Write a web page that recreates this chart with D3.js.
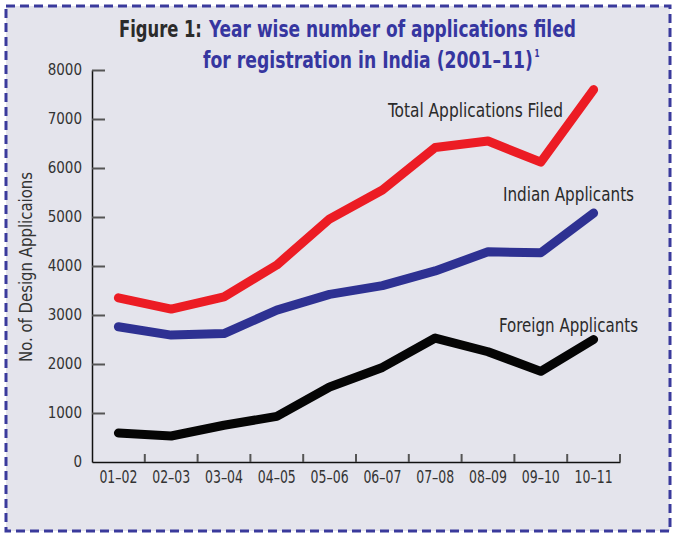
<!DOCTYPE html>
<html><head><meta charset="utf-8">
<script src="https://cdn.jsdelivr.net/npm/d3@7"></script>
<style>html,body{margin:0;padding:0;background:#fff;}svg{display:block;}</style>
</head><body>
<svg id="c" width="676" height="533"></svg>
<script>
const years = ["01–02","02–03","03–04","04–05","05–06","06–07","07–08","08–09","09–10","10–11"];
const totalFiled = [3350, 3120, 3370, 4020, 4960, 5550, 6420, 6550, 6120, 7600];
const indianApplicants = [2760, 2590, 2620, 3100, 3420, 3600, 3900, 4290, 4270, 5080];
const foreignApplicants = [590, 530, 750, 930, 1530, 1930, 2530, 2250, 1850, 2500];
const yTicks = [0, 1000, 2000, 3000, 4000, 5000, 6000, 7000, 8000];
const seriesNames = ["Total Applications Filed", "Indian Applicants", "Foreign Applicants"];

const FONT = "'Liberation Sans Narrow','DejaVu Sans Condensed','Roboto Condensed',sans-serif";
const svg = d3.select("#c");

// background & dashed frame
svg.append("rect").attr("x",6).attr("y",6).attr("width",664).attr("height",525)
  .attr("fill","#e4e4ec").attr("stroke","#3a3a9c").attr("stroke-width",3)
  .attr("stroke-dasharray","9,5");

const x = d3.scaleBand().domain(years).range([92, 620]).padding(0);
const y = d3.scaleLinear().domain([0, 8000]).range([462, 70]);

// axes
const yAxis = d3.axisLeft(y).tickValues(yTicks).tickSize(0).tickPadding(10).tickFormat(d3.format("d"));
const gy = svg.append("g").attr("transform","translate(92,0)").call(yAxis);
gy.select(".domain").attr("stroke","#111").attr("stroke-width",1.5);
gy.selectAll("text").attr("font-family",FONT).attr("font-size",15).attr("fill","#333");
gy.selectAll(".tick").filter(d=>d>0).append("line")
  .attr("x1",0).attr("x2",13).attr("stroke","#555").attr("stroke-width",2);

const xAxis = d3.axisBottom(x).tickSize(0).tickPadding(8);
const gx = svg.append("g").attr("transform","translate(0,462)").call(xAxis);
gx.select(".domain").attr("stroke","#111").attr("stroke-width",1.5);
gx.selectAll("text").attr("font-family",FONT).attr("font-size",18).attr("fill","#333")
  .attr("textLength",38).attr("lengthAdjust","spacingAndGlyphs");
gx.selectAll(".tick").append("line")
  .attr("x1", x.bandwidth()/2).attr("x2", x.bandwidth()/2)
  .attr("y1",0).attr("y2",-8).attr("stroke","#555").attr("stroke-width",2);

// y title
svg.append("text").attr("transform","translate(32,267) rotate(-90)")
  .attr("text-anchor","middle").attr("font-family",FONT).attr("font-size",18)
  .attr("textLength",190).attr("lengthAdjust","spacingAndGlyphs")
  .attr("fill","#333").text("No. of Design Applicaions");

// lines
const line = d3.line().x((d,i)=>x(years[i]) + x.bandwidth()/2).y(d=>y(d));
const series = [
  {vals: totalFiled, color: "#ec1c24"},
  {vals: indianApplicants, color: "#2e3192"},
  {vals: foreignApplicants, color: "#050505"}
];
svg.selectAll("path.series").data(series).join("path").attr("class","series")
  .attr("d", d=>line(d.vals)).attr("fill","none").attr("stroke", d=>d.color)
  .attr("stroke-width",9).attr("stroke-linecap","round").attr("stroke-linejoin","round");

// series labels
const labelPos = [[388,117,175],[503,201,131],[499,332,139]];
svg.selectAll("text.slabel").data(seriesNames).join("text").attr("class","slabel")
  .attr("x",(d,i)=>labelPos[i][0]).attr("y",(d,i)=>labelPos[i][1])
  .attr("textLength",(d,i)=>labelPos[i][2]).attr("lengthAdjust","spacingAndGlyphs")
  .attr("font-family",FONT).attr("font-size",19)
  .attr("fill","#2a2a2a").text(d=>d);

// title (separate pieces, horizontally scaled to fit)
const titleParts = [
  {t:"Figure 1:", x:119, y:37, w:83, c:"#2b2b2b", fs:23},
  {t:"Year wise number of applications filed", x:209, y:37, w:367, c:"#3636a0", fs:23},
  {t:"for registration in India (2001–11)", x:203, y:68, w:330, c:"#3636a0", fs:23},
  {t:"1", x:534.5, y:57, w:5, c:"#3636a0", fs:11}
];
titleParts.forEach(p => {
  const g = svg.append("g");
  const t = g.append("text").attr("font-family",FONT).attr("font-size",p.fs)
    .attr("font-weight","bold").attr("fill",p.c).text(p.t);
  const nat = t.node().getComputedTextLength();
  const s = Math.min(1, p.w / nat);
  g.attr("transform",`translate(${p.x},${p.y}) scale(${s},1)`);
});
</script>
</body></html>
